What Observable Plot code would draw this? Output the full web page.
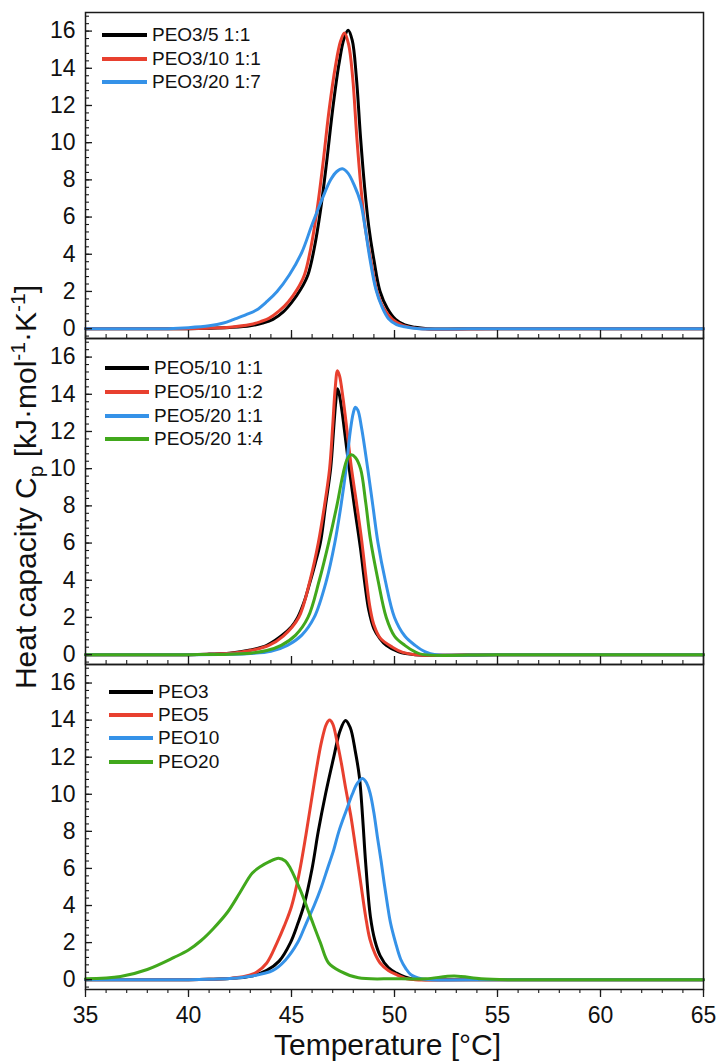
<!DOCTYPE html>
<html><head><meta charset="utf-8">
<script src="https://cdn.jsdelivr.net/npm/d3@7"></script>
<script src="https://cdn.jsdelivr.net/npm/@observablehq/plot@0.6"></script>
<style>
body{margin:0;background:#fff;font-family:"Liberation Sans",Arial,sans-serif;}
#wrap{position:relative;width:721px;height:1063px;overflow:hidden;}
.panel{position:absolute;left:0;}
.row{position:absolute;display:flex;align-items:center;white-space:nowrap;font-size:19px;color:#111;height:24px;}
.sw{display:inline-block;height:4px;margin-right:5px;}
#ytitle{position:absolute;left:26px;top:487px;transform-origin:0 0;transform:rotate(-90deg) translate(-50%,-50%);font-size:30px;line-height:30px;white-space:nowrap;color:#111;}
#ytitle sub,#ytitle sup{font-size:0.7em;line-height:0;}
</style></head><body><div id="wrap"></div>
<script>
// ---------- ticks ----------
const tempTicks = [35, 40, 45, 50, 55, 60, 65];
const cpTicks = [0, 2, 4, 6, 8, 10, 12, 14, 16];
const xLabel = "Temperature [°C]";

// ---------- colours ----------
const cBlack = "#000000", cRed = "#e8402f", cBlue = "#3592e8", cGreen = "#41a81c";

// ---------- panel 1 ----------
const p1Names = ["PEO3/5 1:1", "PEO3/10 1:1", "PEO3/20 1:7"];
const p1_T_black = [35, 40, 41, 42, 43, 43.6, 44.1, 44.6, 45.0, 45.44, 45.8, 46.1, 46.4, 46.7, 47.0, 47.3, 47.55, 47.75, 47.95, 48.15, 48.35, 48.55, 48.75, 49.0, 49.3, 49.65, 50.05, 50.5, 51.0, 51.6, 55, 60, 65];
const p1_Cp_black = [0, 0, 0.02, 0.06, 0.15, 0.3, 0.5, 0.9, 1.4, 2.1, 2.9, 4.3, 6.3, 8.9, 11.8, 14.2, 15.6, 16.05, 15.5, 13.5, 10.3, 7.6, 5.5, 3.7, 2.0, 1.1, 0.5, 0.2, 0.07, 0, 0, 0, 0];
const p1_T_red = [35, 40, 41, 42, 43, 43.5, 43.9, 44.4, 44.85, 45.27, 45.63, 45.93, 46.23, 46.53, 46.83, 47.13, 47.38, 47.57, 47.77, 47.97, 48.17, 48.37, 48.57, 48.85, 49.15, 49.5, 49.9, 50.4, 51.3, 55, 60, 65];
const p1_Cp_red = [0, 0, 0.03, 0.08, 0.22, 0.38, 0.55, 0.95, 1.45, 2.1, 2.9, 4.3, 6.3, 8.9, 11.8, 14.1, 15.45, 15.9, 15.3, 13.5, 10.3, 7.6, 5.5, 3.7, 2.0, 1.05, 0.5, 0.18, 0, 0, 0, 0];
const p1_T_blue = [35, 39, 40, 41, 41.7, 42.2, 42.8, 43.3, 43.8, 44.3, 44.9, 45.5, 46.0, 46.5, 46.9, 47.2, 47.47, 47.75, 48.05, 48.35, 48.55, 48.8, 49.1, 49.4, 49.7, 50.1, 50.5, 51.2, 55, 60, 65];
const p1_Cp_blue = [0, 0, 0.05, 0.15, 0.3, 0.5, 0.75, 1.0, 1.45, 2.0, 2.9, 4.1, 5.6, 7.0, 8.0, 8.45, 8.6, 8.35, 7.7, 6.8, 5.6, 3.8, 2.1, 1.15, 0.55, 0.22, 0.1, 0, 0, 0, 0];

// ---------- panel 2 ----------
const p2Names = ["PEO5/10 1:1", "PEO5/10 1:2", "PEO5/20 1:1", "PEO5/20 1:4"];
const p2_T_black = [35, 40, 41, 42, 43, 43.8, 44.5, 45.0, 45.3, 45.6, 45.9, 46.15, 46.4, 46.65, 46.9, 47.05, 47.15, 47.23, 47.32, 47.45, 47.6, 47.8, 48.05, 48.35, 48.55, 48.75, 49.0, 49.3, 49.6, 50.2, 51, 55, 60, 65];
const p2_Cp_black = [0, 0, 0.03, 0.08, 0.25, 0.5, 1.0, 1.5, 2.0, 2.8, 3.9, 4.9, 6.0, 8.0, 10.0, 12.2, 13.6, 14.3, 14.0, 13.1, 11.8, 10.0, 8.0, 5.7, 3.9, 2.4, 1.4, 0.85, 0.5, 0.15, 0, 0, 0, 0];
const p2_T_red = [35, 40, 41, 42, 43, 43.9, 44.6, 45.35, 45.9, 46.3, 46.6, 46.85, 47.0, 47.12, 47.23, 47.33, 47.5, 47.7, 47.9, 48.15, 48.4, 48.6, 48.8, 49.0, 49.3, 49.9, 50.4, 51, 55, 60, 65];
const p2_Cp_red = [0, 0, 0.02, 0.07, 0.22, 0.5, 1.0, 2.0, 4.0, 6.0, 8.0, 10.0, 12.3, 14.3, 15.27, 15.0, 13.8, 12.0, 10.1, 8.2, 6.2, 4.3, 2.6, 1.6, 0.9, 0.4, 0.12, 0, 0, 0, 0];
const p2_T_blue = [35, 40, 42, 43, 44, 44.8, 45.5, 46.1, 46.7, 47.1, 47.4, 47.65, 47.85, 48.0, 48.1, 48.22, 48.4, 48.7, 48.95, 49.2, 49.55, 50.0, 50.5, 51.0, 51.5, 52, 55, 60, 65];
const p2_Cp_blue = [0, 0, 0.02, 0.06, 0.18, 0.5, 1.05, 2.0, 4.0, 6.0, 8.0, 10.0, 12.0, 13.0, 13.3, 13.15, 12.2, 10.0, 8.0, 6.0, 4.0, 2.0, 1.0, 0.5, 0.15, 0, 0, 0, 0];
const p2_T_green = [35, 40, 42, 43, 43.8, 44.5, 45.2, 45.8, 46.35, 46.8, 47.2, 47.5, 47.7, 47.9, 48.1, 48.35, 48.6, 48.83, 49.2, 49.6, 50.0, 50.5, 51.0, 51.4, 55, 60, 65];
const p2_Cp_green = [0, 0, 0.02, 0.08, 0.22, 0.5, 1.05, 2.0, 4.0, 6.0, 8.0, 9.7, 10.5, 10.75, 10.6, 10.0, 8.2, 6.2, 4.0, 2.0, 1.0, 0.5, 0.15, 0, 0, 0, 0];

// ---------- panel 3 ----------
const p3Names = ["PEO3", "PEO5", "PEO10", "PEO20"];
const p3_T_black = [35, 40, 41, 42, 43, 43.8, 44.4, 44.95, 45.3, 45.6, 46.0, 46.3, 46.65, 47.05, 47.35, 47.62, 47.85, 48.1, 48.3, 48.45, 48.6, 48.83, 49.05, 49.3, 49.7, 50.1, 50.5, 50.9, 51.5, 55, 60, 65];
const p3_Cp_black = [0, 0, 0.02, 0.06, 0.18, 0.5, 1.0, 2.0, 3.0, 4.0, 6.0, 8.0, 10.0, 12.0, 13.4, 13.98, 13.6, 12.3, 10.9, 8.8, 6.3, 3.4, 2.1, 1.3, 0.65, 0.35, 0.15, 0.03, 0, 0, 0, 0];
const p3_T_red = [35, 40, 41, 42, 42.8, 43.3, 43.8, 44.3, 44.65, 45.0, 45.35, 45.7, 46.1, 46.45, 46.7, 46.85, 47.0, 47.2, 47.4, 47.65, 47.9, 48.1, 48.35, 48.6, 48.8, 49.05, 49.3, 49.7, 50.1, 50.6, 51, 55, 60, 65];
const p3_Cp_red = [0, 0, 0.02, 0.07, 0.2, 0.4, 0.9, 2.0, 2.9, 3.95, 5.6, 7.8, 10.6, 12.8, 13.8, 14.0, 13.8, 12.9, 11.8, 10.2, 8.7, 7.2, 5.3, 3.4, 2.2, 1.4, 0.9, 0.5, 0.27, 0.05, 0, 0, 0, 0];
const p3_T_blue = [35, 40, 41, 42, 43, 44.1, 44.7, 45.3, 45.7, 46.1, 46.45, 46.75, 47.05, 47.3, 47.65, 47.95, 48.2, 48.45, 48.65, 48.83, 49.0, 49.17, 49.35, 49.5, 49.65, 49.8, 50.05, 50.3, 50.55, 50.8, 51.3, 51.8, 55, 60, 65];
const p3_Cp_blue = [0, 0, 0.02, 0.06, 0.18, 0.5, 1.05, 2.0, 3.0, 4.0, 5.0, 6.0, 7.0, 8.0, 9.1, 10.0, 10.6, 10.85, 10.6, 10.0, 9.0, 7.7, 6.4, 5.2, 4.1, 3.1, 2.0, 1.1, 0.6, 0.27, 0.05, 0, 0, 0, 0];
const p3_T_green = [35, 36.7, 38, 39.3, 40.0, 40.6, 41.2, 41.9, 42.5, 43.1, 43.5, 43.9, 44.37, 44.7, 44.95, 45.44, 45.92, 46.4, 46.8, 47.38, 48.25, 50, 51.5, 52.9, 54.2, 55.5, 60, 65];
const p3_Cp_green = [0.05, 0.17, 0.55, 1.2, 1.6, 2.1, 2.75, 3.65, 4.7, 5.75, 6.1, 6.35, 6.55, 6.4, 6.0, 4.8, 3.4, 2.0, 0.9, 0.45, 0.1, 0.05, 0.05, 0.2, 0.05, 0, 0, 0];

// ---------- assemble ----------
const panels = [
  {names: p1Names, colors: [cBlack, cRed, cBlue], T: [p1_T_black, p1_T_red, p1_T_blue], Cp: [p1_Cp_black, p1_Cp_red, p1_Cp_blue],
   top: 0, height: 338, marginTop: 12, marginBottom: 0, bottom: false, legend: {x: 102, y: [35, 59, 82], w: 45}},
  {names: p2Names, colors: [cBlack, cRed, cBlue, cGreen], T: [p2_T_black, p2_T_red, p2_T_blue, p2_T_green], Cp: [p2_Cp_black, p2_Cp_red, p2_Cp_blue, p2_Cp_green],
   top: 338, height: 326, marginTop: 0, marginBottom: 0, bottom: false, legend: {x: 105, y: [368, 392, 416, 439], w: 44}},
  {names: p3Names, colors: [cBlack, cRed, cBlue, cGreen], T: [p3_T_black, p3_T_red, p3_T_blue, p3_T_green], Cp: [p3_Cp_black, p3_Cp_red, p3_Cp_blue, p3_Cp_green],
   top: 664, height: 399, marginTop: 0, marginBottom: 74, bottom: true, legend: {x: 109, y: [692, 715, 738, 762], w: 44}}
];

const yDomain = [-0.53, 17];
const cpMinor = d3.range(-1, 43).map(i => +(i * 0.4).toFixed(1)).filter(v => v > yDomain[0] && v < yDomain[1]);
const tempMinor = d3.range(35, 66, 1);
const wrap = document.getElementById("wrap");
const font = "'Liberation Sans', Arial, sans-serif";

for (const p of panels) {
  const marks = [];
  p.names.forEach((name, k) => {
    const rows = p.T[k].map((t, i) => ({T: t, Cp: p.Cp[k][i], name}));
    marks.push(Plot.line(rows, {x: "T", y: "Cp", stroke: p.colors[k], strokeWidth: 3, curve: "catmull-rom"}));
  });
  marks.push(Plot.frame({stroke: "#1a1a1a", strokeWidth: 1.5}));
  marks.push(Plot.axisY({ticks: cpTicks, tickSize: 0, tickPadding: 10, fontSize: 23, label: null, fill: "#111"}));
  marks.push(Plot.axisY({ticks: cpTicks, tickSize: 7, dx: 7, fill: "none", label: null, stroke: "#1a1a1a", strokeWidth: 1.3}));
  marks.push(Plot.axisY({ticks: cpMinor, tickSize: 4, dx: 4, fill: "none", label: null, stroke: "#1a1a1a", strokeWidth: 1.1}));
  if (p.bottom) {
    marks.push(Plot.axisX({ticks: tempTicks, tickSize: 8, tickPadding: 9, fontSize: 23, label: null, stroke: "#1a1a1a", strokeWidth: 1.3, fill: "#111"}));
    marks.push(Plot.axisX({ticks: tempMinor, tickSize: 4, fill: "none", label: null, stroke: "#1a1a1a", strokeWidth: 1.1}));
    marks.push(Plot.text([xLabel], {text: d => d, frameAnchor: "bottom", lineAnchor: "middle", dy: 56, dx: -7, fontSize: 30, fill: "#111"}));
  } else {
    marks.push(Plot.axisX({ticks: tempTicks, tickSize: 8, dy: -8, fill: "none", label: null, stroke: "#1a1a1a", strokeWidth: 1.3}));
    marks.push(Plot.axisX({ticks: tempMinor, tickSize: 4, dy: -4, fill: "none", label: null, stroke: "#1a1a1a", strokeWidth: 1.1}));
  }
  const svg = Plot.plot({
    width: 721, height: p.height,
    marginTop: p.marginTop, marginBottom: p.marginBottom, marginLeft: 85, marginRight: 18,
    x: {domain: [35, 65]},
    y: {domain: yDomain},
    style: {fontFamily: font, background: "transparent", overflow: "visible", color: "#111"},
    marks
  });
  const div = document.createElement("div");
  div.className = "panel";
  div.style.top = p.top + "px";
  div.appendChild(svg);
  wrap.appendChild(div);

  // legend
  p.names.forEach((name, k) => {
    const row = document.createElement("div");
    row.className = "row";
    row.style.left = p.legend.x + "px";
    row.style.top = (p.legend.y[k] - 12) + "px";
    const sw = document.createElement("span");
    sw.className = "sw";
    sw.style.width = p.legend.w + "px";
    sw.style.background = p.colors[k];
    row.appendChild(sw);
    row.appendChild(document.createTextNode(name));
    wrap.appendChild(row);
  });
}

const yt = document.createElement("div");
yt.id = "ytitle";
yt.innerHTML = "Heat capacity C<sub>p</sub> [kJ·mol<sup>-1</sup>·K<sup>-1</sup>]";
wrap.appendChild(yt);
</script></body></html>
